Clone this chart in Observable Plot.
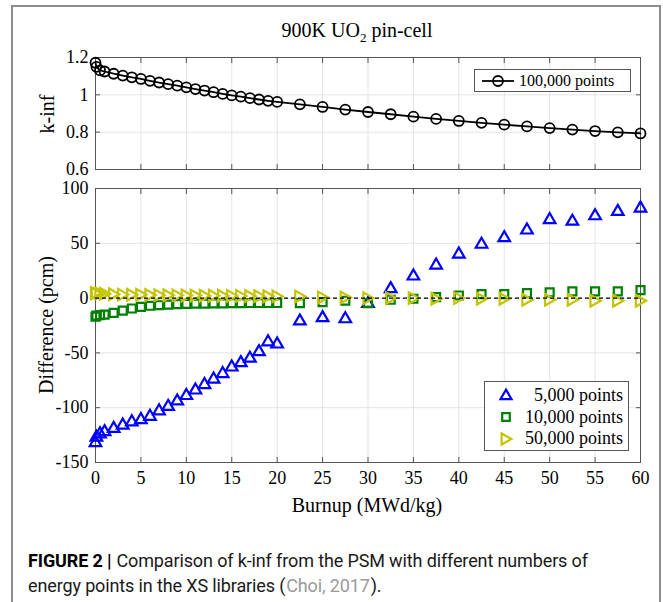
<!DOCTYPE html>
<html>
<head>
<meta charset="utf-8">
<script src="https://cdn.jsdelivr.net/npm/d3@7"></script>
<script src="https://cdn.jsdelivr.net/npm/@observablehq/plot@0.6"></script>
<style>
  html, body { margin: 0; padding: 0; background: #fff; }
  body { width: 663px; height: 602px; position: relative; overflow: hidden; font-family: "Liberation Serif", "Times New Roman", serif; color: #000; }
  #frame { position: absolute; left: 11px; top: 5px; width: 646px; height: 640px; border: 2px solid #8c8c8c; border-bottom: none; }
  .plot { position: absolute; left: 0; }
  .plot svg { overflow: visible; }
  #title { position: absolute; left: 207px; width: 300px; top: 18px; text-align: center; font-size: 20px; line-height: 24px; }
  #title sub { font-size: 13px; vertical-align: -5px; line-height: 0; }
  .ylab { position: absolute; transform: translate(-50%, -50%) rotate(-90deg); white-space: nowrap; font-size: 20px; }
  #xlab { position: absolute; left: 367px; top: 505px; transform: translate(-50%, -50%); white-space: nowrap; font-size: 20px; }
  .legend { position: absolute; background: #fff; border: 1px solid #555; box-sizing: border-box; }
  .legend .row { position: absolute; display: flex; align-items: center; }
  #caption { position: absolute; left: 28px; top: 548px; width: 630px; font-family: "Roboto", "Liberation Sans", sans-serif; font-size: 18px; letter-spacing: -0.13px; line-height: 25px; color: #1a1a1a; }
  #caption .line { white-space: nowrap; }
  #caption b { color: #000; margin-right: 5px; }
  #caption .cite { color: #9a9a9a; margin: 0 1px; }
</style>
</head>
<body>
<div id="frame"></div>
<div id="top" class="plot" style="top:0px"></div>
<div id="bottom" class="plot" style="top:176px"></div>
<div id="title">900K UO<sub>2</sub> pin-cell</div>
<div class="ylab" style="left:47px; top:114px;">k-inf</div>
<div class="ylab" style="left:46px; top:325px;">Difference (pcm)</div>
<div id="xlab">Burnup (MWd/kg)</div>
<div id="legTop" class="legend" style="left:474px; top:69px; width:157px; height:23px;"></div>
<div id="legBot" class="legend" style="left:484px; top:381px; width:145px; height:70px;"></div>
<div id="caption"><div class="line"><b>FIGURE 2 |</b><span>Comparison of k-inf from the PSM with different numbers of</span></div><div class="line"><span>energy points in the XS libraries (</span><span class="cite">Choi, 2017</span><span>).</span></div></div>

<script>
// ---------------- data ----------------
const burnup = [0, 0.1, 0.5, 1, 2, 3, 4, 5, 6, 7, 8, 9, 10, 11, 12, 13, 14, 15, 16, 17, 18, 19, 20,
  22.5, 25, 27.5, 30, 32.5, 35, 37.5, 40, 42.5, 45, 47.5, 50, 52.5, 55, 57.5, 60];

const kinf100000 = [1.172, 1.150, 1.131, 1.125, 1.113, 1.103, 1.094, 1.085, 1.075, 1.066, 1.057, 1.049, 1.040,
  1.031, 1.023, 1.014, 1.005, 0.997, 0.990, 0.982, 0.975, 0.968, 0.962,
  0.949, 0.935, 0.921, 0.908, 0.896, 0.883, 0.871, 0.860, 0.850, 0.840, 0.831, 0.822, 0.814, 0.806, 0.799, 0.793];

const diff5000 = [-132, -127, -124, -122, -119, -116, -113, -111, -108, -103, -99, -94, -89,
  -84, -79, -74, -69, -63, -59, -55, -49, -40, -42,
  -21, -18, -19, -5, 8.5, 20, 30, 40, 49, 55, 62, 71.5, 70, 75, 79, 82];

const diff10000 = [-17, -16, -15.5, -15, -13.5, -11.5, -9.5, -8, -7, -6.5, -6, -5.5, -5.2,
  -5, -5, -4.8, -4.8, -4.6, -4.6, -4.5, -4.5, -4.5, -4.5,
  -4.6, -3.7, -2.4, -4.6, -1.5, -0.6, 0.9, 2.4, 3.7, 3.7, 4.6, 5.2, 6.1, 6.1, 6.1, 7.3];

const diff50000 = [4.5, 4.5, 4.3, 4, 3.5, 3.2, 3, 3, 2.8, 2.7, 2.6, 2.5, 2.4,
  2.3, 2.2, 2.2, 2.1, 2, 2, 1.9, 1.8, 1.7, 1.6,
  1.5, 0.6, 0.6, 0, 0, 0, -0.6, 0, -0.6, -0.6, -1.5, -1.5, -1.5, -2.4, -2.4, -2.4];

const xTicks = [0, 5, 10, 15, 20, 25, 30, 35, 40, 45, 50, 55, 60];
const kTicks = [0.6, 0.8, 1, 1.2];
const diffTicks = [-150, -100, -50, 0, 50, 100];

const seriesNames = ["5,000 points", "10,000 points", "50,000 points"];
const topName = "100,000 points";

// ---------------- styling ----------------
const colors = {"5,000 points": "#0000ff", "10,000 points": "#008000", "50,000 points": "#c4c400"};
const triRight = {
  draw(ctx, size) {
    const k = Math.sqrt(size);
    ctx.moveTo(0.75 * k, 0);
    ctx.lineTo(-0.62 * k, -0.78 * k);
    ctx.lineTo(-0.62 * k, 0.78 * k);
    ctx.closePath();
  }
};
const symbols = {"5,000 points": d3.symbolTriangle, "10,000 points": d3.symbolSquare, "50,000 points": triRight};
const radii = {"5,000 points": 4.3, "10,000 points": 4.5, "50,000 points": 4.2};

const kData = burnup.map((b, i) => ({b, v: kinf100000[i]}));
const diffData = [diff5000, diff10000, diff50000].map(arr => burnup.map((b, i) => ({b, v: arr[i]})));

const gridColor = "#e4e4e4";
const axisColor = "#555";
const fmt = d => String(d);
const baseStyle = {fontFamily: "'Liberation Serif', 'Times New Roman', serif", fontSize: "18px", color: "#000", background: "transparent", overflow: "visible"};

// ---------------- top panel ----------------
const topPlot = Plot.plot({
  width: 663, height: 176,
  marginLeft: 95, marginRight: 23, marginTop: 57, marginBottom: 7,
  x: {domain: [0, 60], axis: null, label: null},
  y: {domain: [0.6, 1.2], axis: null, label: null},
  style: baseStyle,
  marks: [
    Plot.gridX(xTicks, {stroke: gridColor, strokeOpacity: 1}),
    Plot.gridY(kTicks, {stroke: gridColor, strokeOpacity: 1}),
    Plot.frame({stroke: axisColor}),
    Plot.axisY(kTicks, {anchor: "left", tickSize: 0, tickPadding: 7, tickFormat: fmt, label: null, fontSize: 18}),
    Plot.axisY(kTicks, {anchor: "left", tickSize: -5, stroke: axisColor, tickFormat: () => "", label: null}),
    Plot.axisY(kTicks, {anchor: "right", tickSize: -5, stroke: axisColor, tickFormat: () => "", label: null}),
    Plot.axisX(xTicks, {anchor: "bottom", tickSize: -5, stroke: axisColor, tickFormat: () => "", label: null}),
    Plot.axisX(xTicks, {anchor: "top", tickSize: -5, stroke: axisColor, tickFormat: () => "", label: null}),
    Plot.line(kData, {x: "b", y: "v", stroke: "#000", strokeWidth: 1.8}),
    Plot.dot(kData, {x: "b", y: "v", r: 5, symbol: "circle", stroke: "#000", strokeWidth: 1.8, fill: "none"})
  ]
});
document.getElementById("top").appendChild(topPlot);

// ---------------- bottom panel ----------------
const bottomPlot = Plot.plot({
  width: 663, height: 350,
  marginLeft: 95, marginRight: 23, marginTop: 12, marginBottom: 64,
  x: {domain: [0, 60], axis: null, label: null},
  y: {domain: [-150, 100], axis: null, label: null},
  style: baseStyle,
  marks: [
    Plot.gridX(xTicks, {stroke: gridColor, strokeOpacity: 1}),
    Plot.gridY(diffTicks, {stroke: gridColor, strokeOpacity: 1}),
    Plot.frame({stroke: axisColor}),
    Plot.axisY(diffTicks, {anchor: "left", tickSize: 0, tickPadding: 7, tickFormat: fmt, label: null, fontSize: 18}),
    Plot.axisY(diffTicks, {anchor: "left", tickSize: -5, stroke: axisColor, tickFormat: () => "", label: null}),
    Plot.axisY(diffTicks, {anchor: "right", tickSize: -5, stroke: axisColor, tickFormat: () => "", label: null}),
    Plot.axisX(xTicks, {anchor: "bottom", tickSize: 0, tickPadding: 9, tickFormat: fmt, label: null, fontSize: 18}),
    Plot.axisX(xTicks, {anchor: "bottom", tickSize: -5, stroke: axisColor, tickFormat: () => "", label: null}),
    Plot.axisX(xTicks, {anchor: "top", tickSize: -5, stroke: axisColor, tickFormat: () => "", label: null}),
    ...seriesNames.map((name, i) =>
      Plot.dot(diffData[i], {x: "b", y: "v", r: radii[name], symbol: symbols[name], stroke: colors[name], strokeWidth: 2.2, fill: "none"})
    ),
    Plot.ruleY([0], {stroke: "#000", strokeWidth: 1.2, strokeDasharray: "4,3"})
  ]
});
document.getElementById("bottom").appendChild(bottomPlot);

// ---------------- legends ----------------
function markerSvg(symbolType, r, color, withLine) {
  const w = withLine ? 36 : 20, h = 20;
  const path = d3.symbol(symbolType, Math.PI * r * r)();
  const line = withLine ? `<line x1="2" x2="${w - 2}" y1="${h / 2}" y2="${h / 2}" stroke="${color}" stroke-width="1.8"/>` : "";
  return `<svg width="${w}" height="${h}" style="display:block">${line}<path d="${path}" transform="translate(${w / 2},${h / 2})" fill="none" stroke="${color}" stroke-width="${withLine ? 1.8 : 2.2}"/></svg>`;
}
const legTop = document.getElementById("legTop");
legTop.innerHTML = `<div class="row" style="left:5px; top:0px; height:21px; font-size:16px;">${markerSvg(d3.symbolCircle, 5, "#000", true)}<span style="margin-left:3px">${topName}</span></div>`;

const legBot = document.getElementById("legBot");
legBot.innerHTML = seriesNames.map((name, i) =>
  `<div class="row" style="left:11px; right:5px; top:${3 + i * 21.5}px; height:21px; font-size:18px; justify-content:space-between;">${markerSvg(symbols[name], radii[name] * 0.95, colors[name], false)}<span>${name}</span></div>`
).join("");
</script>
</body>
</html>
